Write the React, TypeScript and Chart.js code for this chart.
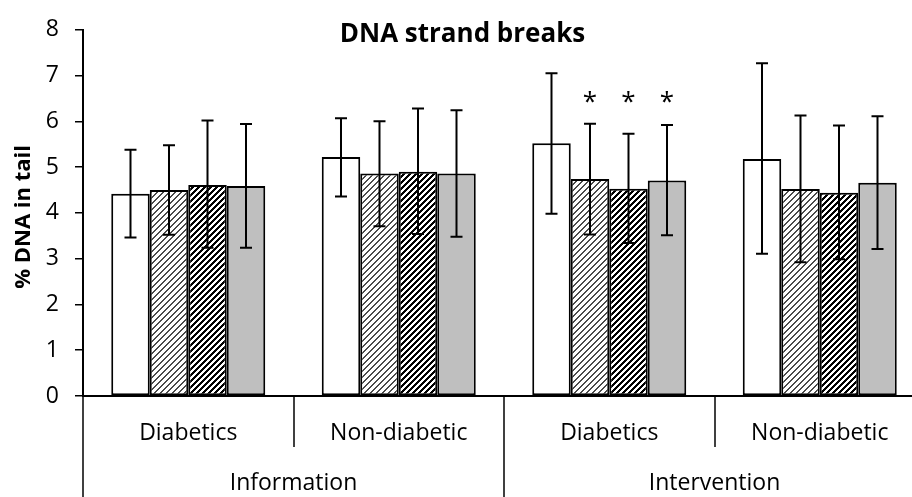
import React, { useEffect, useRef } from "react";
import { Chart, registerables } from "chart.js";

Chart.register(...registerables);

// ---------- data ----------
const subGroups = ["Diabetics", "Non-diabetic", "Diabetics", "Non-diabetic"];
const mainGroups = ["Information", "Intervention"];
const seriesNames = ["Series 1", "Series 2", "Series 3", "Series 4"];

const series1 = [4.42, 5.22, 5.52, 5.18];
const series2 = [4.5, 4.86, 4.74, 4.52];
const series3 = [4.61, 4.9, 4.53, 4.44];
const series4 = [4.59, 4.86, 4.71, 4.66];

const high1 = [5.38, 6.07, 7.05, 7.27];
const high2 = [5.48, 6.0, 5.95, 6.13];
const high3 = [6.02, 6.28, 5.73, 5.91];
const high4 = [5.94, 6.24, 5.92, 6.11];

const low1 = [3.46, 4.36, 3.98, 3.11];
const low2 = [3.52, 3.71, 3.53, 2.92];
const low3 = [3.24, 3.54, 3.34, 2.99];
const low4 = [3.24, 3.48, 3.51, 3.21];

const sig1 = ["", "", "", ""];
const sig2 = ["", "", "*", ""];
const sig3 = ["", "", "*", ""];
const sig4 = ["", "", "*", ""];
const sigLevel = 6.4;

const yTicks = [0, 1, 2, 3, 4, 5, 6, 7, 8];
const chartTitle = "DNA strand breaks";
const yTitle = "% DNA in tail";

const FONT = "'Open Sans', 'Noto Sans', sans-serif";

function makeHatch(band: number, color: string, size: number) {
  const c = document.createElement("canvas");
  c.width = size;
  c.height = size;
  const g = c.getContext("2d")!;
  g.fillStyle = "#ffffff";
  g.fillRect(0, 0, size, size);
  g.fillStyle = color;
  for (let yy = 0; yy < size; yy++) {
    for (let xx = 0; xx < size; xx++) {
      if ((xx + yy) % size < band) g.fillRect(xx, yy, 1, 1);
    }
  }
  return g.createPattern(c, "repeat")!;
}

export default function App() {
  const ref = useRef<HTMLCanvasElement | null>(null);

  useEffect(() => {
    const canvas = ref.current!;
    const values = [series1, series2, series3, series4];
    const highs = [high1, high2, high3, high4];
    const lows = [low1, low2, low3, low4];
    const sigs = [sig1, sig2, sig3, sig4];
    const fills: any[] = [
      "#ffffff",
      makeHatch(2, "#4a4a4a", 6),
      makeHatch(3, "#000000", 6),
      "#bfbfbf",
    ];

    const decor = {
      id: "decor",
      afterDatasetsDraw(chart: any) {
        const ctx = chart.ctx;
        const y = chart.scales.y;
        ctx.save();
        ctx.strokeStyle = "#000";
        ctx.lineWidth = 2;
        values.forEach((_, di) => {
          const meta = chart.getDatasetMeta(di);
          meta.data.forEach((bar: any, i: number) => {
            const x = bar.x;
            const yt = y.getPixelForValue(highs[di][i]);
            const yb = y.getPixelForValue(lows[di][i]);
            ctx.beginPath();
            ctx.moveTo(x, yt);
            ctx.lineTo(x, yb);
            ctx.moveTo(x - 6, yt);
            ctx.lineTo(x + 6, yt);
            ctx.moveTo(x - 6, yb);
            ctx.lineTo(x + 6, yb);
            ctx.stroke();
            if (sigs[di][i]) {
              ctx.fillStyle = "#000";
              ctx.font = `26px ${FONT}`;
              ctx.textAlign = "center";
              ctx.textBaseline = "middle";
              ctx.fillText(sigs[di][i], x, y.getPixelForValue(sigLevel));
            }
          });
        });
        ctx.restore();
      },
      afterDraw(chart: any) {
        const ctx = chart.ctx;
        const xs = chart.scales.x;
        const area = chart.chartArea;
        const H = chart.height;
        const n = subGroups.length;
        const step = (area.right - area.left) / n;
        ctx.save();
        ctx.strokeStyle = "#000";
        ctx.lineWidth = 1.5;
        for (let i = 0; i <= n; i++) {
          const bx = Math.round(area.left + i * step);
          const isMain = i % 2 === 0;
          ctx.beginPath();
          ctx.moveTo(bx, area.bottom);
          ctx.lineTo(bx, isMain ? H : area.bottom + 51);
          ctx.stroke();
        }
        ctx.fillStyle = "#000";
        ctx.textAlign = "center";
        ctx.textBaseline = "alphabetic";
        ctx.font = `23px ${FONT}`;
        subGroups.forEach((lab, i) => {
          ctx.fillText(lab, xs.getPixelForValue(i), area.bottom + 44);
        });
        mainGroups.forEach((lab, j) => {
          const cx = (xs.getPixelForValue(2 * j) + xs.getPixelForValue(2 * j + 1)) / 2;
          ctx.fillText(lab, cx, area.bottom + 94);
        });
        ctx.font = `bold 26px ${FONT}`;
        ctx.fillText(chartTitle, chart.width / 2, 42);
        ctx.translate(30, (area.top + area.bottom) / 2 + 4);
        ctx.rotate(-Math.PI / 2);
        ctx.font = `bold 22px ${FONT}`;
        ctx.fillText(yTitle, 0, 0);
        ctx.restore();
      },
    };

    const chart = new Chart(canvas, {
      type: "bar",
      data: {
        labels: subGroups,
        datasets: values.map((v, di) => ({
          label: seriesNames[di],
          data: v,
          backgroundColor: fills[di],
          borderColor: "#000",
          borderWidth: 2,
          borderSkipped: false,
          categoryPercentage: 0.7316,
          barPercentage: 1.0,
        })),
      },
      options: {
        responsive: false,
        animation: false,
        events: [],
        layout: { padding: { top: 21, bottom: 101, left: 0, right: 0 } },
        plugins: {
          legend: { display: false },
          tooltip: { enabled: false },
          title: { display: false },
        },
        scales: {
          x: {
            type: "category",
            offset: true,
            grid: { display: false },
            ticks: { display: false },
            border: { display: true, color: "#000", width: 2 },
            afterFit(scale: any) {
              scale.height = 0;
            },
          },
          y: {
            min: 0,
            max: 8,
            afterBuildTicks(scale: any) {
              scale.ticks = yTicks.map((v) => ({ value: v }));
            },
            ticks: {
              font: { family: FONT, size: 23 },
              color: "#000",
              padding: 16,
            },
            grid: {
              drawOnChartArea: false,
              drawTicks: true,
              tickLength: 8,
              color: "#000",
              lineWidth: 1.5,
            },
            border: { color: "#000", width: 2 },
            afterFit(scale: any) {
              scale.width = 83;
            },
          },
        },
      },
      plugins: [decor],
    });
    return () => chart.destroy();
  }, []);

  return (
    <div
      style={{
        position: "fixed",
        left: 0,
        top: 0,
        width: 912,
        height: 497,
        overflow: "hidden",
        background: "#fff",
      }}
    >
      <canvas ref={ref} width={925} height={497} style={{ display: "block" }} />
    </div>
  );
}
